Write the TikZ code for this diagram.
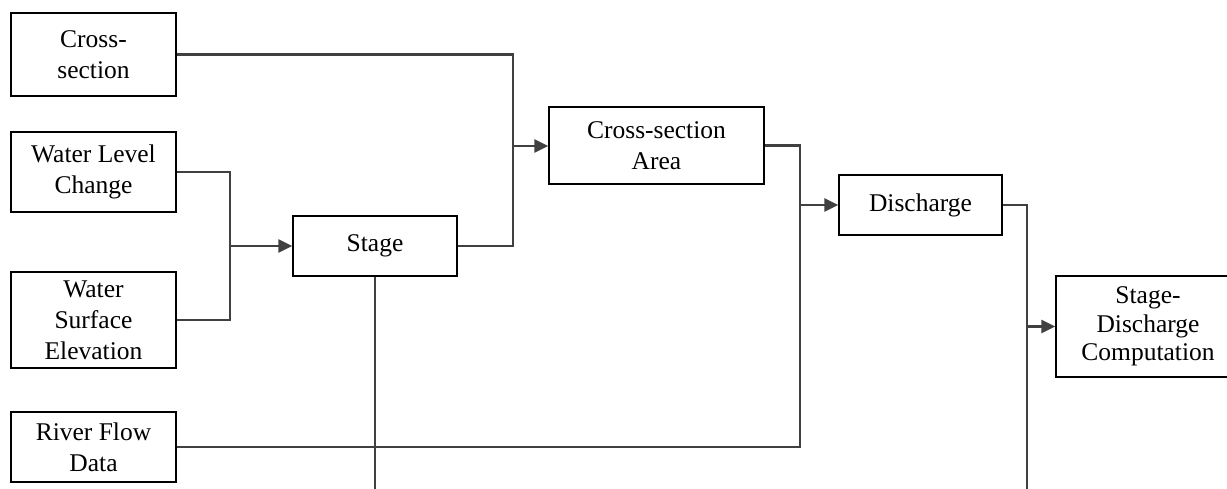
\documentclass[tikz,border=0pt]{standalone}
\usepackage{fontspec}
\setmainfont{Liberation Serif}
\usetikzlibrary{arrows.meta}

\tikzset{
  box/.style={draw=black, line width=2.4pt, fill=white, inner sep=0pt, align=center,
    font=\fontsize{25.5}{31}\selectfont},
  wire/.style={draw=black!75, line width=2.4pt},
  feed/.style={wire, -{Triangle[length=14pt,width=13pt]}, shorten >=-0.5pt}
}

\begin{document}
\begin{tikzpicture}[x=1pt,y=-1pt]
  \clip (0,0) rectangle (1227,489);
  \useasboundingbox (0,0) rectangle (1227,489);

  % input boxes on the left
  \node[box, minimum width=165pt, minimum height=83pt] (cs)  at (93.5,54.5) {Cross-\\section};
  \node[box, minimum width=165pt, minimum height=80pt] (wlc) at (93.5,172) {Water Level\\Change};
  \node[box, minimum width=165pt, minimum height=96pt] (wse) at (93.5,320) {Water\\Surface\\Elevation};
  \node[box, minimum width=165pt, minimum height=70pt] (rfd) at (93.5,447) {River Flow\\Data};

  % processing chain
  \node[box, minimum width=164pt, minimum height=60pt] (stage) at (375,246) {Stage};
  \node[box, minimum width=215pt, minimum height=77pt] (csa) at (656.5,145.5) {Cross-section\\Area};
  \node[box, minimum width=163pt, minimum height=60pt] (dis) at (920.5,205) {Discharge};
  \node[box, minimum width=184pt, minimum height=101pt, font=\fontsize{25.5}{28.5}\selectfont] (sdc) at (1148,326.5) {Stage-\\Discharge\\Computation};

  % junction points of the merging lines
  \coordinate (m0) at (230,246);
  \coordinate (m1) at (513,146);
  \coordinate (m2) at (800,205);
  \coordinate (m3) at (1027,326.5);
  \coordinate (bot) at (0,495);

  % water level and surface elevation give the stage
  \draw[wire] (wlc.east) -| (m0) |- (wse.east);
  \draw[feed] (m0) -- (stage.west);

  % cross-section and stage give the area
  \draw[wire] (cs.east) -| (m1) |- (stage.east);
  \draw[feed] (m1) -- (m1 -| csa.west);

  % area and river flow data give the discharge
  \draw[wire] (csa.east) -| (m2) |- (rfd.east);
  \draw[feed] (m2) -- (dis.west);

  % discharge feeds the stage-discharge computation
  \draw[wire] (dis.east) -| (m3) -- (m3 |- bot);
  \draw[feed] (m3) -- (sdc.west);

  % stage line running down
  \draw[wire] (stage.south) -- (stage.south |- bot);
\end{tikzpicture}
\end{document}
